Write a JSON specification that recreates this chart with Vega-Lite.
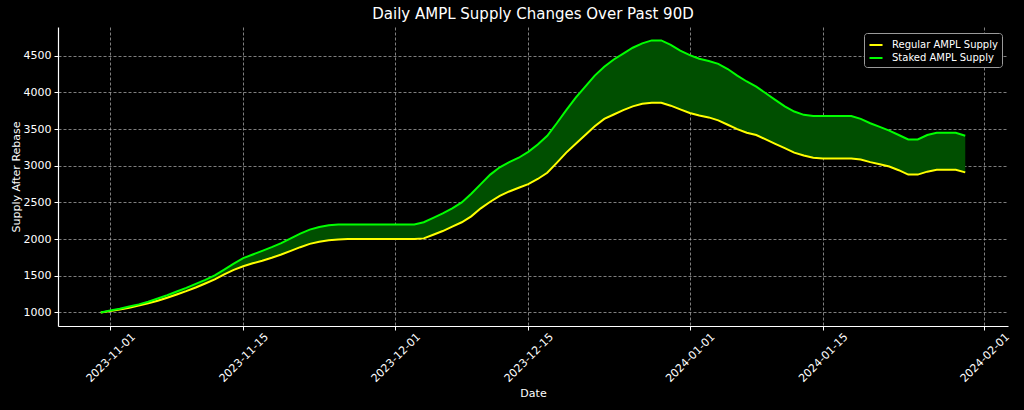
{
  "$schema": "https://vega.github.io/schema/vega-lite/v6.json",
  "width": 950,
  "height": 299,
  "autosize": {"type": "none"},
  "padding": {"left": 58, "top": 27, "right": 16, "bottom": 84},
  "background": "#000000",
  "title": {
    "text": "Daily AMPL Supply Changes Over Past 90D",
    "color": "#ffffff",
    "font": "DejaVu Sans",
    "fontSize": 15,
    "fontWeight": "normal",
    "anchor": "middle",
    "offset": 5
  },
  "config": {
    "view": {"stroke": null},
    "font": "DejaVu Sans",
    "axis": {
      "domainColor": "#ffffff",
      "domainWidth": 1.2,
      "tickColor": "#ffffff",
      "tickSize": 4,
      "labelColor": "#ffffff",
      "labelFont": "DejaVu Sans",
      "labelFontSize": 11,
      "titleColor": "#ffffff",
      "titleFont": "DejaVu Sans",
      "titleFontSize": 11,
      "titleFontWeight": "normal",
      "gridColor": "#b0b0b0",
      "gridDash": [3, 2],
      "gridOpacity": 0.9,
      "gridWidth": 0.8
    },
    "legend": {
      "orient": "top-right",
      "offset": 6,
      "padding": 4,
      "fillColor": "#000000",
      "strokeColor": "#9a9a9a",
      "cornerRadius": 3,
      "labelColor": "#ffffff",
      "labelFont": "DejaVu Sans",
      "labelFontSize": 10,
      "symbolType": "stroke",
      "symbolStrokeWidth": 2,
      "symbolSize": 170,
      "rowPadding": 0,
      "labelOffset": 8
    }
  },
  "data": {
    "values": [
      {"date": "2023-10-31", "regular": 1000, "staked": 1000},
      {"date": "2023-11-01", "regular": 1018, "staked": 1025},
      {"date": "2023-11-02", "regular": 1040, "staked": 1050},
      {"date": "2023-11-03", "regular": 1065, "staked": 1080},
      {"date": "2023-11-04", "regular": 1095, "staked": 1110},
      {"date": "2023-11-05", "regular": 1125, "staked": 1145},
      {"date": "2023-11-06", "regular": 1160, "staked": 1190},
      {"date": "2023-11-07", "regular": 1200, "staked": 1235},
      {"date": "2023-11-08", "regular": 1245, "staked": 1285},
      {"date": "2023-11-09", "regular": 1290, "staked": 1335},
      {"date": "2023-11-10", "regular": 1340, "staked": 1390},
      {"date": "2023-11-11", "regular": 1395, "staked": 1445},
      {"date": "2023-11-12", "regular": 1450, "staked": 1505},
      {"date": "2023-11-13", "regular": 1520, "staked": 1585},
      {"date": "2023-11-14", "regular": 1580, "staked": 1665},
      {"date": "2023-11-15", "regular": 1630, "staked": 1740},
      {"date": "2023-11-16", "regular": 1670, "staked": 1790},
      {"date": "2023-11-17", "regular": 1705, "staked": 1840},
      {"date": "2023-11-18", "regular": 1745, "staked": 1890},
      {"date": "2023-11-19", "regular": 1790, "staked": 1945},
      {"date": "2023-11-20", "regular": 1840, "staked": 2010},
      {"date": "2023-11-21", "regular": 1890, "staked": 2075},
      {"date": "2023-11-22", "regular": 1935, "staked": 2130},
      {"date": "2023-11-23", "regular": 1965, "staked": 2165},
      {"date": "2023-11-24", "regular": 1985, "staked": 2190},
      {"date": "2023-11-25", "regular": 1995, "staked": 2200},
      {"date": "2023-11-26", "regular": 2000, "staked": 2200},
      {"date": "2023-11-27", "regular": 2000, "staked": 2200},
      {"date": "2023-11-28", "regular": 2000, "staked": 2200},
      {"date": "2023-11-29", "regular": 2000, "staked": 2200},
      {"date": "2023-11-30", "regular": 2000, "staked": 2200},
      {"date": "2023-12-01", "regular": 2000, "staked": 2200},
      {"date": "2023-12-02", "regular": 2000, "staked": 2200},
      {"date": "2023-12-03", "regular": 2000, "staked": 2200},
      {"date": "2023-12-04", "regular": 2010, "staked": 2230},
      {"date": "2023-12-05", "regular": 2060, "staked": 2290},
      {"date": "2023-12-06", "regular": 2110, "staked": 2350},
      {"date": "2023-12-07", "regular": 2170, "staked": 2420},
      {"date": "2023-12-08", "regular": 2230, "staked": 2500},
      {"date": "2023-12-09", "regular": 2310, "staked": 2620},
      {"date": "2023-12-10", "regular": 2420, "staked": 2750},
      {"date": "2023-12-11", "regular": 2510, "staked": 2880},
      {"date": "2023-12-12", "regular": 2590, "staked": 2980},
      {"date": "2023-12-13", "regular": 2650, "staked": 3050},
      {"date": "2023-12-14", "regular": 2700, "staked": 3110},
      {"date": "2023-12-15", "regular": 2750, "staked": 3190},
      {"date": "2023-12-16", "regular": 2820, "staked": 3290},
      {"date": "2023-12-17", "regular": 2905, "staked": 3410},
      {"date": "2023-12-18", "regular": 3040, "staked": 3580},
      {"date": "2023-12-19", "regular": 3180, "staked": 3760},
      {"date": "2023-12-20", "regular": 3300, "staked": 3930},
      {"date": "2023-12-21", "regular": 3420, "staked": 4080},
      {"date": "2023-12-22", "regular": 3540, "staked": 4230},
      {"date": "2023-12-23", "regular": 3640, "staked": 4350},
      {"date": "2023-12-24", "regular": 3700, "staked": 4450},
      {"date": "2023-12-25", "regular": 3760, "staked": 4530},
      {"date": "2023-12-26", "regular": 3810, "staked": 4610},
      {"date": "2023-12-27", "regular": 3845, "staked": 4670},
      {"date": "2023-12-28", "regular": 3860, "staked": 4710},
      {"date": "2023-12-29", "regular": 3860, "staked": 4710},
      {"date": "2023-12-30", "regular": 3820, "staked": 4650},
      {"date": "2023-12-31", "regular": 3770, "staked": 4570},
      {"date": "2024-01-01", "regular": 3720, "staked": 4510},
      {"date": "2024-01-02", "regular": 3685, "staked": 4460},
      {"date": "2024-01-03", "regular": 3660, "staked": 4430},
      {"date": "2024-01-04", "regular": 3620, "staked": 4390},
      {"date": "2024-01-05", "regular": 3560, "staked": 4320},
      {"date": "2024-01-06", "regular": 3500, "staked": 4230},
      {"date": "2024-01-07", "regular": 3450, "staked": 4150},
      {"date": "2024-01-08", "regular": 3420, "staked": 4080},
      {"date": "2024-01-09", "regular": 3360, "staked": 3990},
      {"date": "2024-01-10", "regular": 3300, "staked": 3900},
      {"date": "2024-01-11", "regular": 3240, "staked": 3810},
      {"date": "2024-01-12", "regular": 3180, "staked": 3740},
      {"date": "2024-01-13", "regular": 3140, "staked": 3695},
      {"date": "2024-01-14", "regular": 3110, "staked": 3680},
      {"date": "2024-01-15", "regular": 3100, "staked": 3680},
      {"date": "2024-01-16", "regular": 3100, "staked": 3680},
      {"date": "2024-01-17", "regular": 3100, "staked": 3680},
      {"date": "2024-01-18", "regular": 3100, "staked": 3680},
      {"date": "2024-01-19", "regular": 3085, "staked": 3640},
      {"date": "2024-01-20", "regular": 3050, "staked": 3580},
      {"date": "2024-01-21", "regular": 3020, "staked": 3530},
      {"date": "2024-01-22", "regular": 2990, "staked": 3480},
      {"date": "2024-01-23", "regular": 2940, "staked": 3420},
      {"date": "2024-01-24", "regular": 2880, "staked": 3360},
      {"date": "2024-01-25", "regular": 2880, "staked": 3360},
      {"date": "2024-01-26", "regular": 2920, "staked": 3420},
      {"date": "2024-01-27", "regular": 2945, "staked": 3450},
      {"date": "2024-01-28", "regular": 2945, "staked": 3450},
      {"date": "2024-01-29", "regular": 2945, "staked": 3450},
      {"date": "2024-01-30", "regular": 2910, "staked": 3410}
    ]
  },
  "encoding": {
    "x": {
      "field": "date",
      "type": "temporal",
      "title": "Date",
      "scale": {
        "type": "utc",
        "domain": [
          {"year": 2023, "month": 10, "date": 26, "hours": 12, "utc": true},
          {"year": 2024, "month": 2, "date": 3, "hours": 12, "utc": true}
        ]
      },
      "axis": {
        "values": [
          {"year": 2023, "month": 11, "date": 1, "utc": true},
          {"year": 2023, "month": 11, "date": 15, "utc": true},
          {"year": 2023, "month": 12, "date": 1, "utc": true},
          {"year": 2023, "month": 12, "date": 15, "utc": true},
          {"year": 2024, "month": 1, "date": 1, "utc": true},
          {"year": 2024, "month": 1, "date": 15, "utc": true},
          {"year": 2024, "month": 2, "date": 1, "utc": true}
        ],
        "labelExpr": "utcFormat(datum.value, '%Y-%m-%d')",
        "labelAngle": -45,
        "labelAlign": "right",
        "labelBaseline": "middle",
        "labelOffset": 23,
        "labelPadding": 5,
        "titlePadding": 4
      }
    }
  },
  "layer": [
    {
      "mark": {"type": "area", "color": "#004f00", "opacity": 1},
      "encoding": {
        "y": {
          "field": "staked",
          "type": "quantitative",
          "title": "Supply After Rebase",
          "scale": {"domain": [815, 4893], "nice": false, "zero": false},
          "axis": {
            "values": [1000, 1500, 2000, 2500, 3000, 3500, 4000, 4500],
            "format": "d",
            "labelPadding": 3,
            "titlePadding": 2
          }
        },
        "y2": {"field": "regular"}
      }
    },
    {
      "transform": [{"fold": ["regular", "staked"], "as": ["series", "supply"]}],
      "mark": {"type": "line", "strokeWidth": 2},
      "encoding": {
        "y": {"field": "supply", "type": "quantitative"},
        "color": {
          "field": "series",
          "type": "nominal",
          "scale": {"domain": ["regular", "staked"], "range": ["#ffff00", "#00ff00"]},
          "legend": {
            "title": null,
            "labelExpr": "datum.label == 'regular' ? 'Regular AMPL Supply' : 'Staked AMPL Supply'"
          }
        }
      }
    }
  ]
}
